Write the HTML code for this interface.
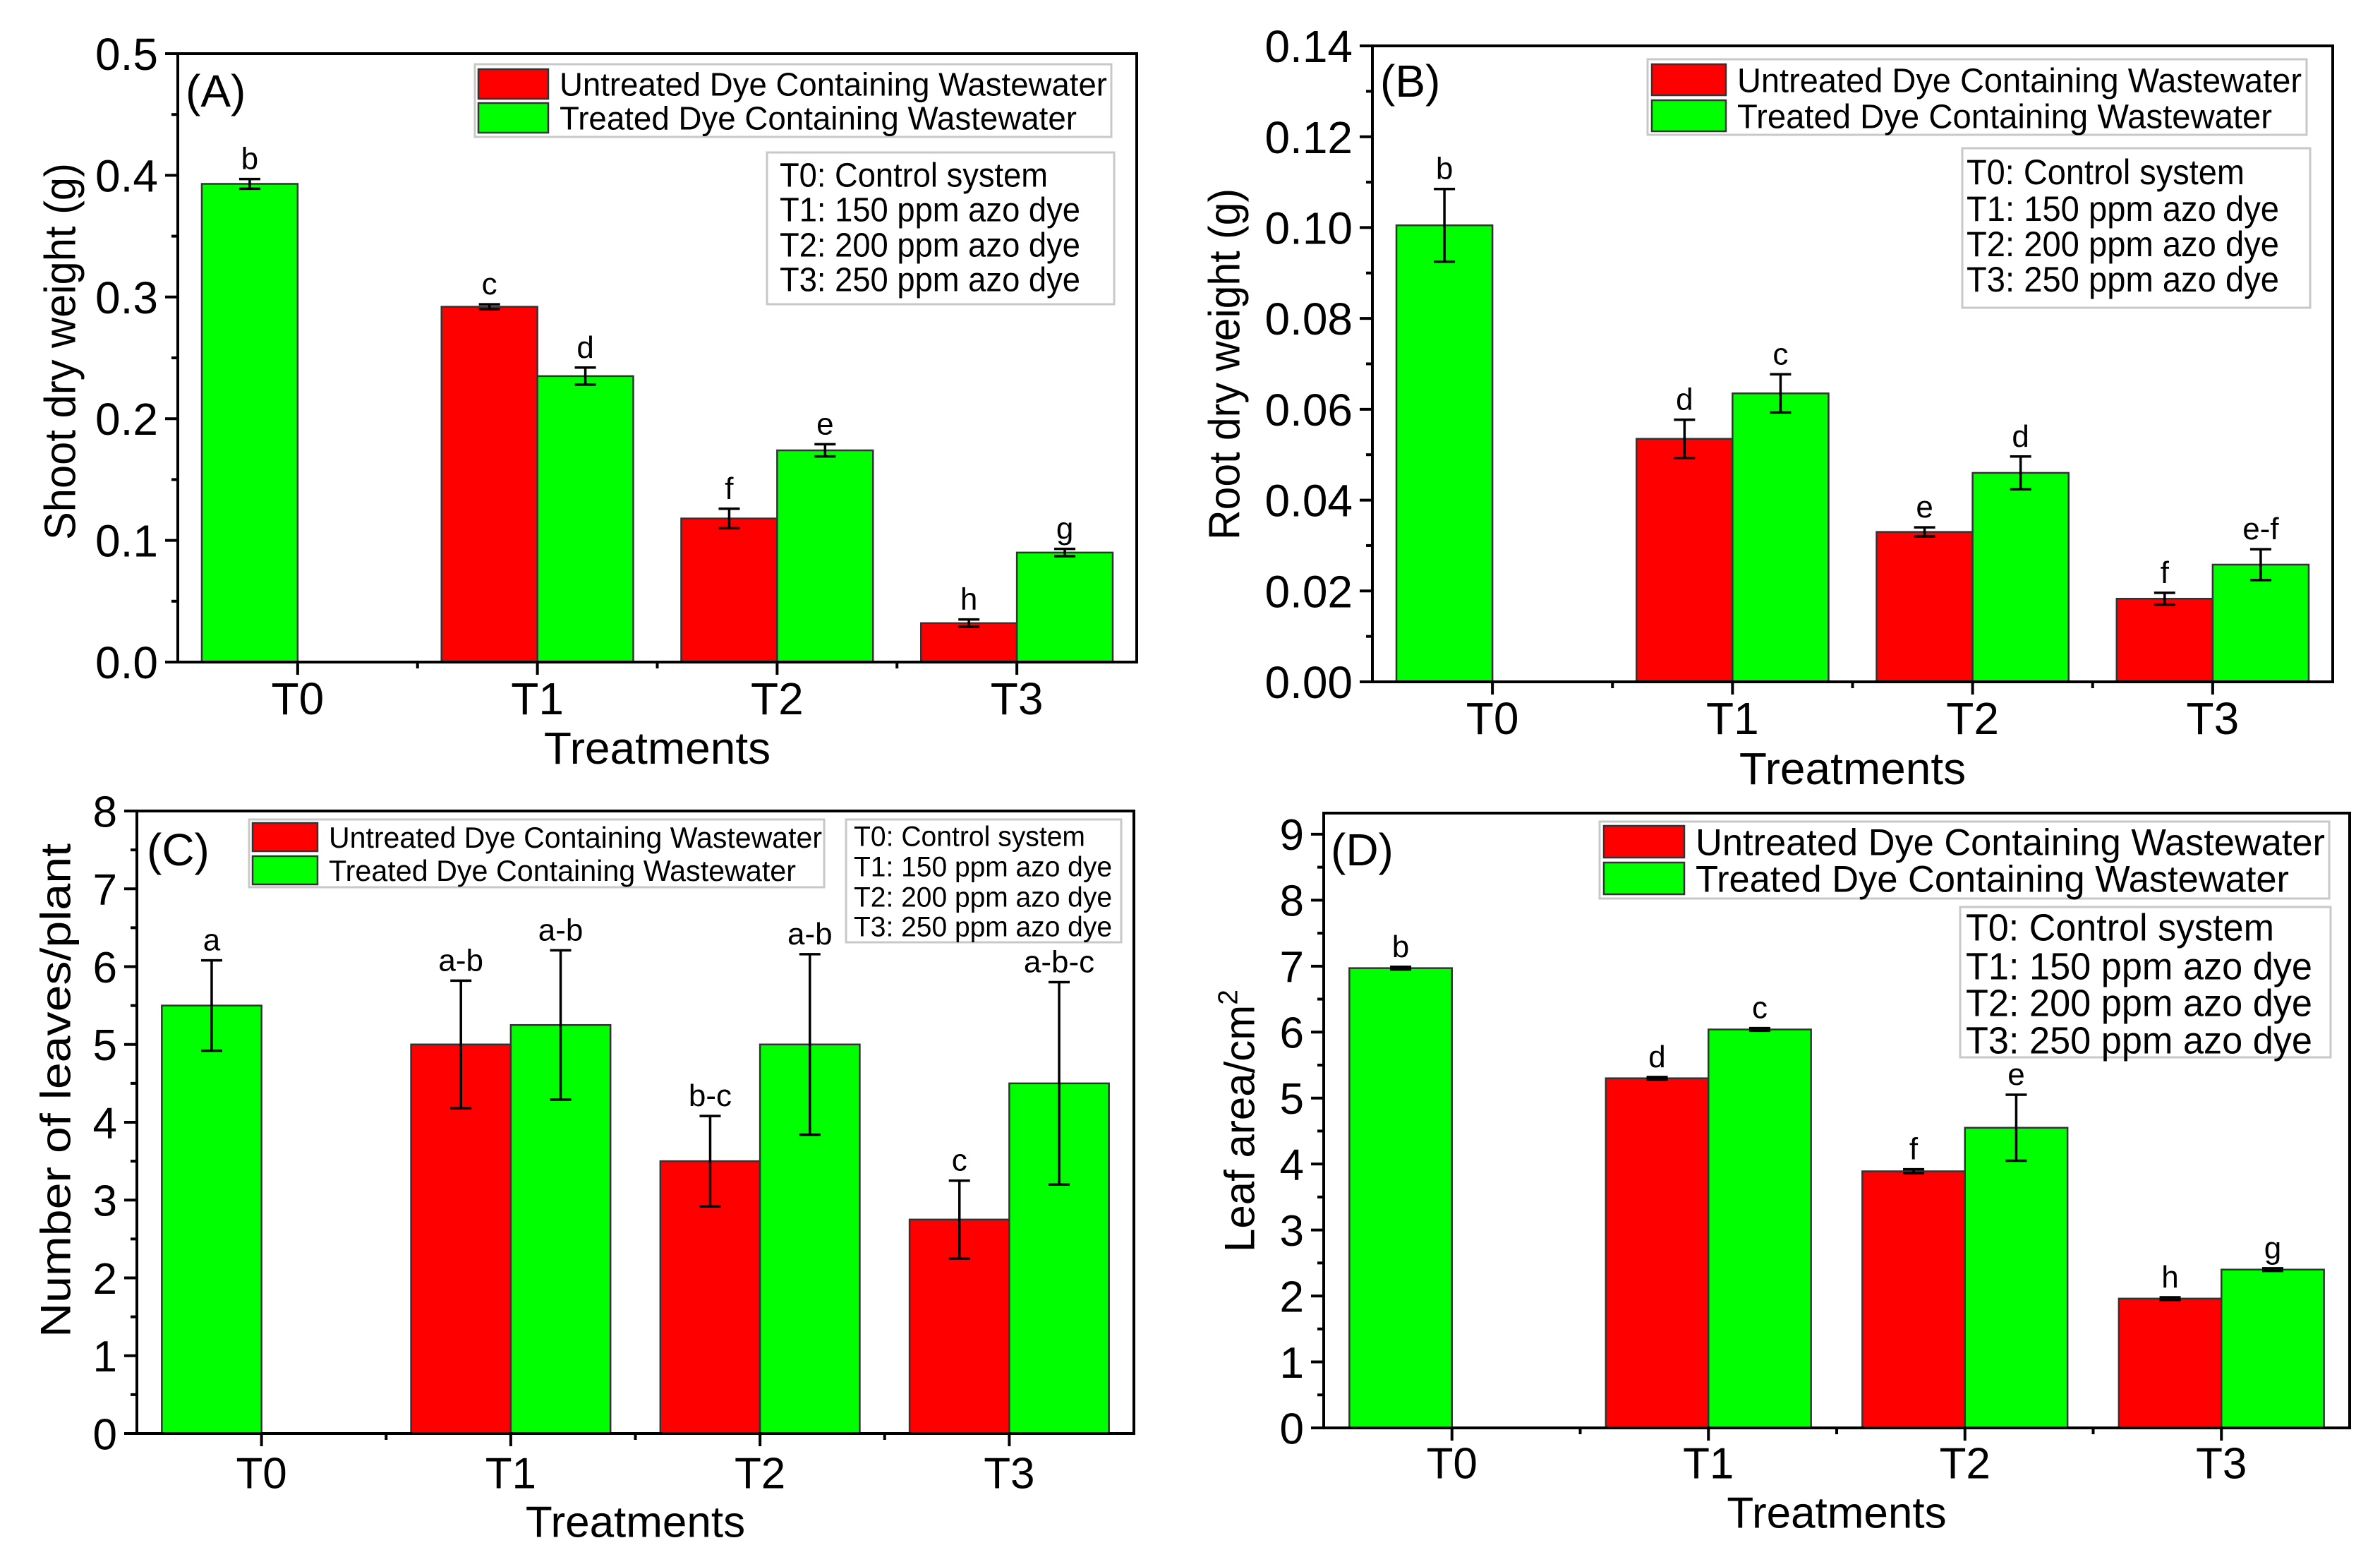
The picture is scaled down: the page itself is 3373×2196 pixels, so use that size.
<!DOCTYPE html>
<html><head><meta charset="utf-8"><style>
html,body{margin:0;padding:0;background:#fff}
svg{display:block;font-family:"Liberation Sans",Arial,sans-serif}
</style></head><body>
<svg id="fig" width="3373" height="2196" viewBox="0 0 3373 2196" xmlns="http://www.w3.org/2000/svg"></svg>
<script>
// ---- data ----
const categories = ["T0","T1","T2","T3"];
const aUntreated = [null,0.292,0.118,0.032];
const aUntreatedErr = [0,0.002,0.008,0.003];
const aTreated = [0.393,0.235,0.174,0.090];
const aTreatedErr = [0.004,0.007,0.005,0.003];
const aLettersU = ["","c","f","h"];
const aLettersT = ["b","d","e","g"];
const aTicks = ["0.0","0.1","0.2","0.3","0.4","0.5"];

const bUntreated = [null,0.0535,0.033,0.0183];
const bUntreatedErr = [0,0.0042,0.001,0.0013];
const bTreated = [0.1005,0.0635,0.046,0.0258];
const bTreatedErr = [0.008,0.0042,0.0036,0.0034];
const bLettersU = ["","d","e","f"];
const bLettersT = ["b","c","d","e-f"];
const bTicks = ["0.00","0.02","0.04","0.06","0.08","0.10","0.12","0.14"];

const cUntreated = [null,5.0,3.5,2.75];
const cUntreatedErr = [0,0.82,0.58,0.5];
const cTreated = [5.5,5.25,5.0,4.5];
const cTreatedErr = [0.58,0.96,1.16,1.3];
const cLettersU = ["","a-b","b-c","c"];
const cLettersT = ["a","a-b","a-b","a-b-c"];
const cTicks = ["0","1","2","3","4","5","6","7","8"];

const dUntreated = [null,5.3,3.89,1.96];
const dUntreatedErr = [0,0.02,0.03,0.02];
const dTreated = [6.97,6.04,4.55,2.4];
const dTreatedErr = [0.02,0.02,0.5,0.02];
const dLettersU = ["","d","f","h"];
const dLettersT = ["b","c","e","g"];
const dTicks = ["0","1","2","3","4","5","6","7","8","9"];

const legendLabels = ["Untreated Dye Containing Wastewater","Treated Dye Containing Wastewater"];
const infoLines = ["T0: Control system","T1: 150 ppm azo dye","T2: 200 ppm azo dye","T3: 250 ppm azo dye"];

const NS="http://www.w3.org/2000/svg";
const svg=document.getElementById('fig');
function mk(tag,attrs,parent,text){
  const e=document.createElementNS(NS,tag);
  for(const k in attrs) e.setAttribute(k,attrs[k]);
  if(text!==undefined) e.textContent=text;
  (parent||svg).appendChild(e);
  return e;
}

function panel(p){
  const g=mk('g',{});
  
  
  const x=c=>p.L+(c+0.5)*(p.R-p.L)/4;
  const y=v=>p.B-(v/p.ymax)*(p.B-p.T);
  const bw=0.4*(p.R-p.L)/4;
  for(let i=0;i<categories.length;i++){
    const cx=x(i);
    const items=[];
    if(p.u[i]!==null){
      items.push({v:p.u[i],e:p.ue[i],l:p.lu[i],x0:cx-bw,col:'#ff0000',n:'untreated'});
      items.push({v:p.t[i],e:p.te[i],l:p.lt[i],x0:cx,col:'#00ff00',n:'treated'});
    } else {
      items.push({v:p.t[i],e:p.te[i],l:p.lt[i],x0:cx-bw,col:'#00ff00',n:'treated'});
    }
    items.forEach(it=>{
      const r=mk('rect',{x:it.x0,y:y(it.v),width:bw,height:p.B-y(it.v),fill:it.col,stroke:'#333',"stroke-width":2.5},g);
      
      
      const mx=it.x0+bw/2, yt=y(it.v+it.e), yb=y(it.v-it.e);
      const eb=mk('path',{d:`M${mx},${yt}V${yb}M${mx-15},${yt}H${mx+15}M${mx-15},${yb}H${mx+15}`,stroke:'#000',"stroke-width":3.5,fill:'none'},g);
      
      
      const lt=mk('text',{x:mx,y:yt-14,"font-size":p.lf,"text-anchor":'middle'},g,it.l);
      
      
    });
  }
  const fr=mk('rect',{x:p.L,y:p.T,width:p.R-p.L,height:p.B-p.T,fill:'none',stroke:'#000',"stroke-width":4},g);
  
  
  const ya=mk('g',{},g);
  
  
  for(let k=0;k<p.ticks.length;k++){
    const v=k*p.major, yy=y(v);
    mk('line',{x1:p.L-18,x2:p.L,y1:yy,y2:yy,stroke:'#000',"stroke-width":4},ya);
    const t=mk('text',{x:p.L-28,y:yy+p.tf*0.36,"font-size":p.tf,"text-anchor":'end'},ya,p.ticks[k]);
    
    
    if(v+p.major/2<p.ymax){const ym=y(v+p.major/2);mk('line',{x1:p.L-9,x2:p.L,y1:ym,y2:ym,stroke:'#000',"stroke-width":4},ya);}
  }
  const xa=mk('g',{},g);
  
  
  for(let i=0;i<categories.length;i++){
    const xx=x(i);
    mk('line',{x1:xx,x2:xx,y1:p.B,y2:p.B+18,stroke:'#000',"stroke-width":4},xa);
    if(i>0){const xm=x(i-0.5);mk('line',{x1:xm,x2:xm,y1:p.B,y2:p.B+9,stroke:'#000',"stroke-width":4},xa);}
    const t=mk('text',{x:xx,y:p.xly+p.tf*0.36,"font-size":p.tf,"text-anchor":'middle'},xa,categories[i]);
    
    
  }
  const xt=mk('text',{x:(p.L+p.R)/2,y:p.xty+p.tf*0.36,"font-size":p.tf,"text-anchor":'middle'},g,'Treatments');
  
  
  const yt=mk('text',{x:0,y:0,"font-size":p.yf,"text-anchor":'middle',textLength:p.ytl,lengthAdjust:'spacingAndGlyphs',transform:`translate(${p.ytx+p.yf*0.36},${p.yty}) rotate(-90)`},g);
  
  
  yt.textContent=p.ytitle;
  if(p.sup){
    yt.removeAttribute('textLength');
    mk('tspan',{"font-size":p.yf*0.65,dy:-p.yf*0.4},yt,'2');
  }
  const pl=mk('text',{x:p.plx,y:p.ply+p.pf*0.36,"font-size":p.pf},g,'('+p.id.toUpperCase()+')');
  
  
  const lg=mk('g',{},g);
  
  
  mk('rect',{x:p.lg[0],y:p.lg[1],width:p.lg[2],height:p.lg[3],fill:'#fff',stroke:'#c8c8c8',"stroke-width":3},lg);
  ['#ff0000','#00ff00'].forEach((col,j)=>{
    const sy=p.lgRows[j];
    const sw=mk('rect',{x:p.sw[0],y:sy,width:p.sw[1],height:p.swh,fill:col,stroke:'#333',"stroke-width":2.5},lg);
    
    
    const t=mk('text',{x:p.sw[0]+p.sw[1]+16,y:sy+p.swh/2+p.lgf*0.36,"font-size":p.lgf,textLength:p.lgw[j],lengthAdjust:'spacingAndGlyphs'},lg,legendLabels[j]);
    
    
  });
  const ib=mk('g',{},g);
  
  
  mk('rect',{x:p.ib[0],y:p.ib[1],width:p.ib[2],height:p.ib[3],fill:'#fff',stroke:'#c8c8c8',"stroke-width":3},ib);
  infoLines.forEach((s,j)=>{
    const t=mk('text',{x:p.ib[0]+p.ipad,y:p.iy[j]+p.if*0.36,"font-size":p.if,textLength:j?p.iw[1]:p.iw[0],lengthAdjust:'spacingAndGlyphs'},ib,s);
    
    
  });
}

panel({id:'a',L:252,R:1611,T:76,B:938,ymax:0.5,major:0.1,ticks:aTicks,u:aUntreated,ue:aUntreatedErr,t:aTreated,te:aTreatedErr,lu:aLettersU,lt:aLettersT,
  lf:44,tf:64,xly:989,xty:1059,yf:62,ytl:534,ytx:84,yty:498,ytitle:'Shoot dry weight (g)',plx:263,ply:128,pf:64,
  lg:[673,91,902,103],sw:[678,99],swh:42,lgRows:[98,146],lgf:46,lgw:[776,733],
  ib:[1087,216,492,215],ipad:18,iy:[247,296,346,395],if:48,iw:[380,426]});
panel({id:'b',L:1945,R:3306,T:65,B:966,ymax:0.14,major:0.02,ticks:bTicks,u:bUntreated,ue:bUntreatedErr,t:bTreated,te:bTreatedErr,lu:bLettersU,lt:bLettersT,
  lf:44,tf:64,xly:1017,xty:1088,yf:62,ytl:498,ytx:1734,yty:516,ytitle:'Root dry weight (g)',plx:1956,ply:114,pf:64,
  lg:[2335,84,934,107],sw:[2341,105],swh:44,lgRows:[91,142],lgf:48,lgw:[800,758],
  ib:[2781,210,493,226],ipad:6,iy:[243,295,345,395],if:50,iw:[394,443]});
panel({id:'c',L:194,R:1607,T:1149,B:2031,ymax:8,major:1,ticks:cTicks,u:cUntreated,ue:cUntreatedErr,t:cTreated,te:cTreatedErr,lu:cLettersU,lt:cLettersT,
  lf:44,tf:62,xly:2086,xty:2155,yf:60,ytl:700,ytx:78,yty:1545,ytitle:'Number of leaves/plant',plx:208,ply:1203,pf:64,
  lg:[353,1161,815,96],sw:[358,92],swh:40,lgRows:[1166,1213],lgf:42,lgw:[699,662],
  ib:[1199,1161,390,174],ipad:11,iy:[1184,1227,1270,1312],if:40,iw:[328,366]});
panel({id:'d',L:1876,R:3330,T:1152,B:2023,ymax:9.32,major:1,ticks:dTicks,u:dUntreated,ue:dUntreatedErr,t:dTreated,te:dTreatedErr,lu:dLettersU,lt:dLettersT,
  lf:44,tf:62,xly:2072,xty:2142,yf:60,ytl:0,ytx:1756,yty:1588,ytitle:'Leaf area/cm',sup:true,plx:1886,ply:1203,pf:64,
  lg:[2267,1164,1034,109],sw:[2273,114],swh:45,lgRows:[1170,1222],lgf:53,lgw:[892,841],
  ib:[2778,1285,525,213],ipad:8,iy:[1313,1368,1420,1473],if:54,iw:[437,491]});
</script>
</body></html>
